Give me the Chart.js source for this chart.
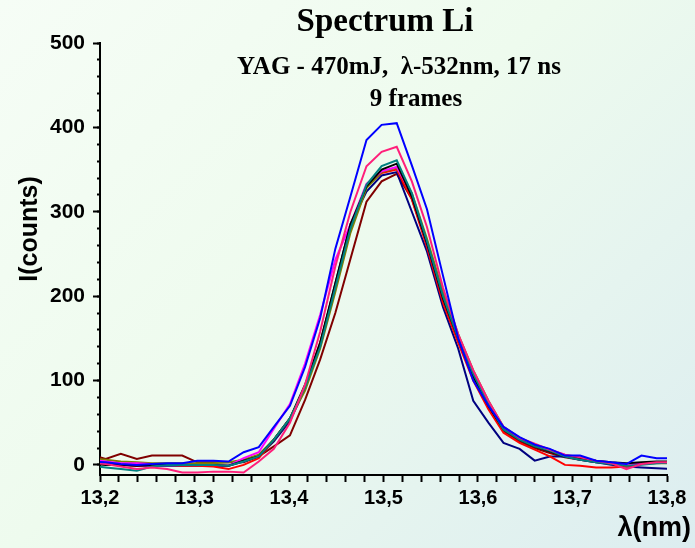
<!DOCTYPE html>
<html>
<head>
<meta charset="utf-8">
<script src="https://cdn.jsdelivr.net/npm/chart.js@4/dist/chart.umd.min.js"></script>
<style>
  html, body { margin: 0; padding: 0; }
  body {
    width: 695px; height: 548px; overflow: hidden;
    background: linear-gradient(135deg, #f6fdf6 0%, #eefbee 45%, #dcedf0 100%);
  }
  canvas { display: block; }
</style>
</head>
<body>
<canvas id="spec" width="695" height="548"></canvas>
<script>
// wavelength of each sample, nm
const lambda = [13.190, 13.206, 13.222, 13.239, 13.255, 13.271, 13.287, 13.303, 13.320, 13.336,
  13.352, 13.368, 13.384, 13.401, 13.417, 13.433, 13.449, 13.465, 13.482, 13.498,
  13.514, 13.530, 13.546, 13.563, 13.579, 13.595, 13.611, 13.627, 13.644, 13.660,
  13.676, 13.692, 13.708, 13.725, 13.741, 13.757, 13.773, 13.789, 13.806];

// counts for the 9 frames
const frame1 = [4, 3, 1, 0, 1, 2, 2, 5, 5, 4, 15, 21, 45, 70, 116, 174, 256, 318, 385, 403,
  405, 355, 303, 224, 150, 100, 70, 45, 33, 24, 19, 11, 11, 5, 3, 1, 11, 8, 8];
const frame2 = [3, 1, -2, -5, -3, -5, -9, -9, -8, -8, -9, 4, 19, 50, 95, 158, 235, 300, 354, 371,
  377, 336, 282, 210, 155, 112, 76, 45, 32, 25, 18, 12, 9, 5, 2, -5, 1, 3, 3];
const frame3 = [-1, -3, -5, -7, -2, 0, 0, 0, 0, -1, 4, 10, 30, 55, 92, 140, 210, 280, 332, 354,
  361, 322, 265, 200, 150, 108, 72, 42, 30, 22, 17, 10, 6, 3, 1, -1, 0, 2, 3];
const frame4 = [1, 0, 0, -1, 0, 0, 0, 0, 0, -1, 5, 10, 30, 55, 95, 145, 215, 285, 330, 350,
  357, 318, 262, 197, 150, 105, 70, 42, 30, 22, 16, 10, 8, 5, 3, 2, 3, 4, 4];
const frame5 = [6, 4, 2, 2, 1, 1, 0, 0, 0, -1, 8, 15, 43, 72, 120, 178, 243, 285, 333, 348,
  353, 320, 262, 198, 152, 110, 74, 44, 30, 24, 18, 12, 8, 4, 2, 0, 2, 3, 3];
const frame6 = [8, 6, 4, 3, 2, 2, 2, 2, 2, 3, 6, 12, 30, 55, 88, 138, 205, 275, 328, 347,
  352, 322, 268, 205, 155, 112, 76, 45, 32, 24, 18, 11, 8, 4, 2, 0, 1, 2, 2];
const frame7 = [2, 1, 0, -1, 0, 0, -1, -1, -2, -5, 0, 8, 30, 55, 92, 145, 212, 280, 330, 346,
  350, 315, 258, 192, 145, 100, 66, 38, 26, 18, 10, 0, -1, -3, -3, -2, 1, 3, 3];
const frame8 = [3, 2, 0, -1, -1, -1, -1, -1, -1, -1, 4, 10, 28, 52, 90, 143, 215, 285, 324, 343,
  347, 300, 253, 187, 138, 76, 50, 26, 19, 5, 10, 10, 6, 3, 0, -2, -3, -4, -5];
const frame9 = [12, 7, 13, 7, 11, 11, 11, 3, 3, 3, 3, 10, 22, 35, 77, 125, 180, 244, 312, 336,
  345, 315, 262, 198, 150, 105, 70, 40, 28, 20, 14, 9, 6, 3, 2, 1, 2, 3, 3];

const frames = [frame1, frame2, frame3, frame4, frame5, frame6, frame7, frame8, frame9];
const colors = ["#0000ff", "#ff1f7a", "#008080", "#000000", "#ff00ff",
  "#808000", "#ff0000", "#000080", "#800000"];

// tick positions
const xTicks = [13.2, 13.22, 13.24, 13.26, 13.28, 13.3, 13.32, 13.34, 13.36, 13.38,
  13.4, 13.42, 13.44, 13.46, 13.48, 13.5, 13.52, 13.54, 13.56, 13.58,
  13.6, 13.62, 13.64, 13.66, 13.68, 13.7, 13.72, 13.74, 13.76, 13.78, 13.8];
const yMajor = [0, 100, 200, 300, 400, 500];
const yMinor = [0, 20, 40, 60, 80, 100, 120, 140, 160, 180, 200, 220, 240, 260, 280,
  300, 320, 340, 360, 380, 400, 420, 440, 460, 480, 500];

const datasets = frames.map((f, k) => ({
  label: "frame " + (k + 1),
  data: f.map((v, i) => ({ x: lambda[i], y: v })),
  borderColor: colors[k],
  borderWidth: 2,
  pointRadius: 0,
  tension: 0,
  fill: false,
  yAxisID: "y",
}));

// texts placed by hand over the plot (title overlaps the plot area)
const labelsPlugin = {
  id: "labels",
  afterDraw(chart) {
    const ctx = chart.ctx;
    ctx.save();
    ctx.fillStyle = "#000";
    ctx.textAlign = "center";
    ctx.textBaseline = "alphabetic";
    ctx.font = 'bold 33px "Liberation Serif"';
    ctx.fillText("Spectrum Li", 385, 31);
    ctx.font = 'bold 25px "Liberation Serif"';
    ctx.fillText("YAG - 470mJ,  \u03bb-532nm, 17 ns", 399, 74);
    ctx.fillText("9 frames", 416, 106);

    ctx.font = 'bold 27px "Liberation Sans"';
    ctx.textAlign = "right";
    ctx.fillText("\u03bb(nm)", 691, 536);

    ctx.font = 'bold 25px "Liberation Sans"';
    ctx.translate(30, 229);
    ctx.rotate(-Math.PI / 2);
    ctx.textAlign = "center";
    ctx.textBaseline = "middle";
    ctx.fillText("I(counts)", 0, 0);
    ctx.restore();
  },
};

const tickFont = { family: "Liberation Sans", weight: "bold", size: 20 };

new Chart(document.getElementById("spec"), {
  type: "line",
  data: { datasets: datasets },
  plugins: [labelsPlugin],
  options: {
    responsive: false,
    animation: false,
    layout: { padding: { top: 43, right: 28, left: 0, bottom: 0 } },
    plugins: {
      legend: { display: false },
      tooltip: { enabled: false },
      title: { display: false },
    },
    scales: {
      x: {
        type: "linear",
        min: 13.2,
        max: 13.8,
        afterBuildTicks: (s) => { s.ticks = xTicks.map((v) => ({ value: v })); },
        afterFit: (s) => { s.height = 73; },
        border: { display: true, color: "#000", width: 2 },
        grid: { drawOnChartArea: false, drawTicks: true, tickLength: 7, tickColor: "#000", tickWidth: 2 },
        ticks: {
          autoSkip: false,
          maxRotation: 0,
          padding: 4,
          color: "#000",
          font: tickFont,
          callback: (v) => (Math.round(v * 100) % 10 === 0 ? v.toFixed(1).replace(".", ",") : ""),
        },
      },
      y: {
        type: "linear",
        position: "left",
        weight: 1,
        min: -12,
        max: 500,
        afterBuildTicks: (s) => { s.ticks = yMajor.map((v) => ({ value: v })); },
        afterFit: (s) => { s.width = 100; },
        border: { display: true, color: "#000", width: 2 },
        grid: { drawOnChartArea: false, drawTicks: true, tickLength: 7, tickColor: "#000", tickWidth: 2 },
        ticks: {
          autoSkip: false,
          padding: 8,
          color: "#000",
          font: { family: "Liberation Sans", weight: "bold", size: 21 },
        },
      },
      yMinor: {
        type: "linear",
        position: "left",
        weight: -1,
        min: -12,
        max: 500,
        afterBuildTicks: (s) => { s.ticks = yMinor.map((v) => ({ value: v })); },
        afterFit: (s) => { s.width = 0; },
        border: { display: false },
        grid: { drawOnChartArea: false, drawTicks: true, tickLength: 3, tickColor: "#000", tickWidth: 2 },
        ticks: { display: false },
      },
    },
  },
});
</script>
</body>
</html>
